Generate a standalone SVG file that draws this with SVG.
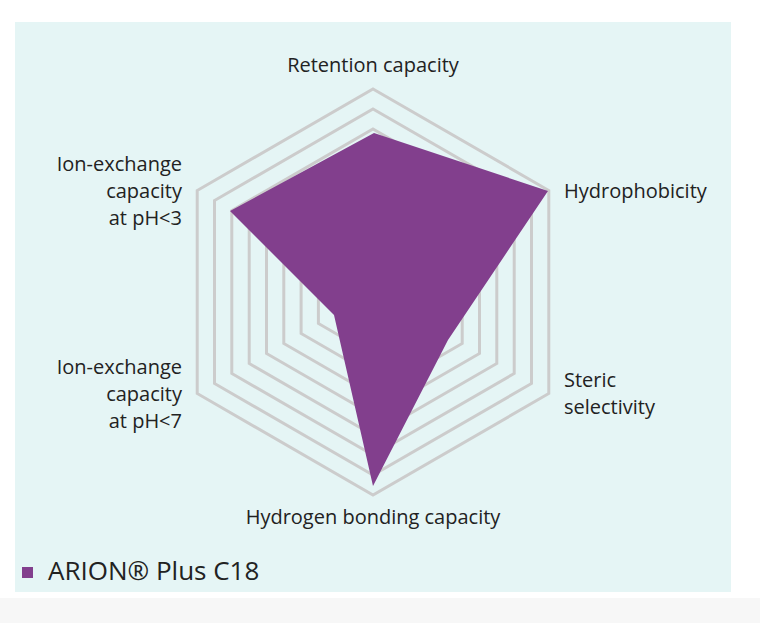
<svg xmlns="http://www.w3.org/2000/svg" width="760" height="623" viewBox="0 0 760 623">
<style>
.ring{fill:none;stroke:#cccccc;stroke-width:3}
text{font-family:"Open Sans","Noto Sans",sans-serif;font-size:20px;fill:#222}
</style>
<rect width="760" height="623" fill="#ffffff"/>
<rect x="15" y="22" width="716" height="570" fill="#e5f5f5"/>
<rect x="0" y="598" width="760" height="25" fill="#f7f7f7"/>
<g id="grid">
<polygon class="ring" points="373,89 548.8,190.5 548.8,393.5 373,495 197.2,393.5 197.2,190.5"/>
<polygon class="ring" points="373,109 531.5,200.5 531.5,383.5 373,475 214.5,383.5 214.5,200.5"/>
<polygon class="ring" points="373,129 514.2,210.5 514.2,373.5 373,455 231.8,373.5 231.8,210.5"/>
<polygon class="ring" points="373,149 496.8,220.5 496.8,363.5 373,435 249.2,363.5 249.2,220.5"/>
<polygon class="ring" points="373,169 479.5,230.5 479.5,353.5 373,415 266.5,353.5 266.5,230.5"/>
<polygon class="ring" points="373,189 462.2,240.5 462.2,343.5 373,395 283.8,343.5 283.8,240.5"/>
<polygon class="ring" points="373,209 444.9,250.5 444.9,333.5 373,375 301.1,333.5 301.1,250.5"/>
<polygon class="ring" points="373,229 427.6,260.5 427.6,323.5 373,355 318.4,323.5 318.4,260.5"/>
</g>
<g id="data">
<polygon points="374,133 548,191 448,340 373,486 334,315 230,211" fill="#823f8d"/>
</g>
<g id="labels">
<text x="373" y="72" text-anchor="middle">Retention capacity</text>
<text x="564" y="198">Hydrophobicity</text>
<text x="564" y="387">Steric</text>
<text x="564" y="414">selectivity</text>
<text x="373" y="524" text-anchor="middle">Hydrogen bonding capacity</text>
<text x="182" y="171" text-anchor="end">Ion-exchange</text>
<text x="182" y="198" text-anchor="end">capacity</text>
<text x="182" y="225" text-anchor="end">at pH&lt;3</text>
<text x="182" y="374" text-anchor="end">Ion-exchange</text>
<text x="182" y="401" text-anchor="end">capacity</text>
<text x="182" y="428" text-anchor="end">at pH&lt;7</text>
</g>
<g id="legend">
<rect x="22" y="567" width="11" height="11" fill="#823f8d"/>
<text x="48" y="580" style="font-size:26px">ARION® Plus C18</text>
</g>
</svg>
